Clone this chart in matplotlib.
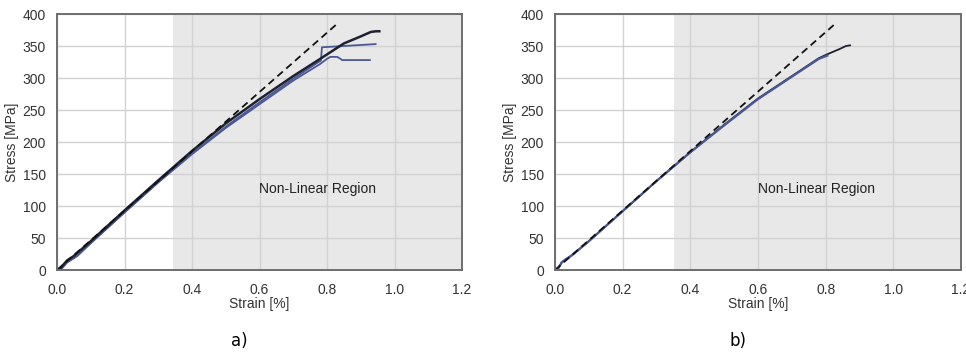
import matplotlib
matplotlib.use("Agg")
import matplotlib.pyplot as plt
import numpy as np

plt.rcParams['font.family'] = ['Liberation Sans', 'DejaVu Sans']

# ---------------- data ----------------
x_ticks = [0.0, 0.2, 0.4, 0.6, 0.8, 1.0, 1.2]
y_ticks = [0, 50, 100, 150, 200, 250, 300, 350, 400]

# panel a
a_black_x = [0, 0.01, 0.03, 0.05, 0.1, 0.2, 0.3, 0.4, 0.5, 0.6, 0.7, 0.78, 0.85, 0.9, 0.93, 0.945, 0.955]
a_black_y = [0, 3, 15, 22, 45, 93, 140, 186, 229, 267, 303, 330, 354, 365, 372, 373, 373]
a_blue1_x = [0, 0.01, 0.03, 0.06, 0.1, 0.2, 0.3, 0.4, 0.5, 0.6, 0.7, 0.775, 0.782, 0.785, 0.85, 0.944]
a_blue1_y = [0, 0, 12, 22, 42, 90, 137, 182, 224, 262, 299, 325, 327, 348, 350, 353]
a_blue2_x = [0, 0.01, 0.03, 0.06, 0.1, 0.2, 0.3, 0.4, 0.5, 0.6, 0.7, 0.78, 0.8, 0.81, 0.83, 0.84, 0.845, 0.927]
a_blue2_y = [0, 0, 12, 22, 42, 90, 137, 181, 222, 259, 296, 322, 330, 333, 333, 330, 328, 328]
a_dash_x = [0, 0.835]
a_dash_y = [0, 387]
a_region_start = 0.344

# panel b
b_black_x = [0, 0.01, 0.02, 0.03, 0.05, 0.1, 0.2, 0.3, 0.4, 0.5, 0.6, 0.7, 0.78, 0.8, 0.84, 0.86, 0.872]
b_black_y = [0, 3, 12, 16, 23, 45, 92, 139, 184, 227, 268, 303, 331, 336, 345, 350, 351]
b_blue_x = [0, 0.01, 0.02, 0.03, 0.05, 0.1, 0.2, 0.3, 0.4, 0.5, 0.6, 0.7, 0.78, 0.8, 0.805]
b_blue_y = [0, 3, 12, 16, 23, 45, 92, 139, 184, 226, 267, 302, 330, 334, 335]
b_dash_x = [0, 0.833]
b_dash_y = [0, 387]
b_region_start = 0.351

region_label = "Non-Linear Region"
panel_labels = ["a)", "b)"]

# ---------------- plot ----------------
fig = plt.figure(figsize=(9.66, 3.56), dpi=100)
ax_a = fig.add_axes([57/966, 1-270/356, 405/966, 256/356])
ax_b = fig.add_axes([555/966, 1-270/356, 406/966, 256/356])

black = '#1e2130'
blue = '#4a5896'

def style(ax, region_start):
    ax.set_xlim(0, 1.2)
    ax.set_ylim(0, 400)
    ax.axvspan(region_start, 1.2, color='#e8e8e8', zorder=0, lw=0)
    ax.set_xticks(x_ticks)
    ax.set_yticks(y_ticks)
    ax.set_xticklabels([f"{v:.1f}" for v in x_ticks])
    ax.grid(True, color='#d2d2d2', lw=1.0, zorder=1)
    ax.set_axisbelow(False)
    ax.tick_params(length=0, labelsize=10, colors='#333333')
    ax.tick_params(axis='x', pad=9)
    ax.tick_params(axis='y', pad=8)
    for s in ax.spines.values():
        s.set_color('#6e6e6e')
        s.set_linewidth(1.4)
        s.set_zorder(5)
    ax.set_xlabel("Strain [%]", fontsize=10, color='#333333')
    ax.set_ylabel("Stress [MPa]", fontsize=10, color='#333333')
    ax.xaxis.set_label_coords(0.5, -0.105)
    ax.yaxis.set_label_coords(-0.093, 0.5)
    ax.text(0.773, 127, region_label, fontsize=10, color='#222222', ha='center', va='center', zorder=3)

style(ax_a, a_region_start)
ax_a.plot(a_blue1_x, a_blue1_y, color=blue, lw=1.3, zorder=3)
ax_a.plot(a_blue2_x, a_blue2_y, color=blue, lw=1.3, zorder=3)
ax_a.plot(a_black_x, a_black_y, color=black, lw=1.8, zorder=3)
ax_a.plot(a_dash_x, a_dash_y, color='#111111', lw=1.3, ls=(0, (4, 2.5)), zorder=4)

style(ax_b, b_region_start)
ax_b.plot(b_black_x, b_black_y, color=black, lw=1.3, zorder=3)
ax_b.plot(b_blue_x, b_blue_y, color=blue, lw=1.6, zorder=3)
ax_b.plot(b_dash_x, b_dash_y, color='#111111', lw=1.3, ls=(0, (4, 2.5)), zorder=4)

fig.text(239/966, 1-341/356, panel_labels[0], fontsize=12, family='DejaVu Sans', ha='center', va='center')
fig.text(738/966, 1-341/356, panel_labels[1], fontsize=12, family='DejaVu Sans', ha='center', va='center')

fig.savefig("out.png", dpi=100)
